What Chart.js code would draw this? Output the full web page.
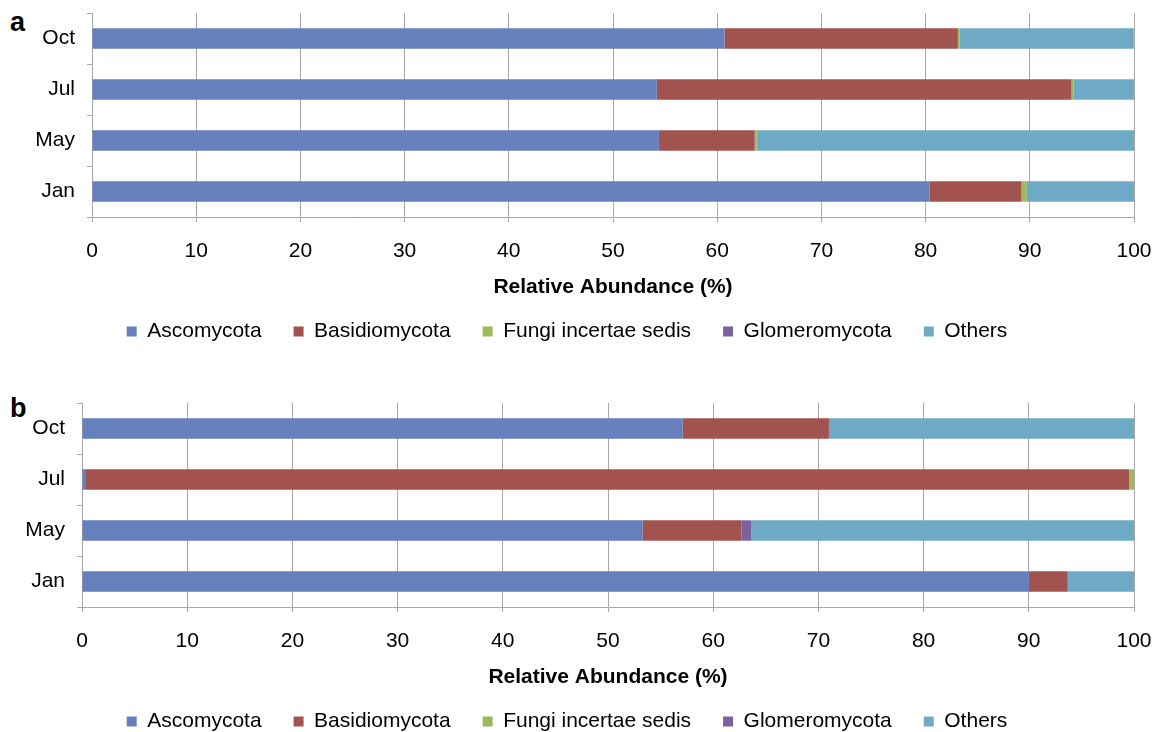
<!DOCTYPE html>
<html>
<head>
<meta charset="utf-8">
<script src="https://cdn.jsdelivr.net/npm/chart.js@4/dist/chart.umd.min.js"></script>
<style>
  html, body { margin: 0; padding: 0; background: #ffffff; overflow: hidden; }
  body { width: 1166px; height: 732px; position: relative; font-family: "Liberation Sans", Arial, Helvetica, sans-serif; }
  canvas { position: absolute; left: 0; }
  #chartA { top: 0; }
  #chartB { top: 390px; }
  .panel { position: absolute; left: 10px; font-weight: bold; font-size: 27px; color: #000; line-height: 1; }
</style>
</head>
<body>
<div class="panel" style="top:9px">a</div>
<div class="panel" style="top:395px">b</div>
<canvas id="chartA" width="1166" height="355"></canvas>
<canvas id="chartB" width="1166" height="355"></canvas>
<script>
// Sampling months (bottom to top)
const months = ['Jan', 'May', 'Jul', 'Oct'];
const phyla = ['Ascomycota', 'Basidiomycota', 'Fungi incertae sedis', 'Glomeromycota', 'Others'];
const xTicks = [0, 10, 20, 30, 40, 50, 60, 70, 80, 90, 100];

// Panel a: relative abundance (%) per phylum, in month order
const ascomycotaA    = [80.4, 54.4, 54.2, 60.7];
const basidiomycotaA = [8.8, 9.2, 39.8, 22.4];
const incertaeA      = [0.5, 0.2, 0.2, 0.15];
const glomeroA       = [0.03, 0.03, 0.03, 0.03];
const othersA        = [10.3, 36.2, 5.8, 16.7];

// Panel b: relative abundance (%) per phylum, in month order
const ascomycotaB    = [90.0, 53.3, 0.3, 57.1];
const basidiomycotaB = [3.7, 9.4, 99.25, 13.9];
const incertaeB      = [0, 0, 0.45, 0];
const glomeroB       = [0, 0.9, 0, 0];
const othersB        = [6.3, 36.4, 0, 29.0];

const colors = ['#6580bd', '#a3534f', '#9bbb5b', '#7d62a0', '#6eaac6'];
const gridColor = '#a8a8a8';
const FONT = '"Liberation Sans", Arial, Helvetica, sans-serif';

Chart.defaults.font.family = FONT;
Chart.defaults.font.size = 21;
Chart.defaults.color = '#000';

function makeDatasets(series) {
  return series.map((vals, i) => ({
    label: phyla[i],
    data: vals,
    backgroundColor: colors[i],
    borderWidth: 0,
    categoryPercentage: 1.0,
    barPercentage: 0.4
  }));
}

function buildChart(canvasId, series, yWidth) {
  return new Chart(document.getElementById(canvasId), {
    type: 'bar',
    data: { labels: months, datasets: makeDatasets(series) },
    options: {
      indexAxis: 'y',
      responsive: false,
      animation: false,
      layout: { padding: { top: 13, right: 32, left: 0, bottom: 3 } },
      plugins: {
        tooltip: { enabled: false },
        legend: {
          position: 'bottom',
          labels: {
            boxWidth: 10,
            boxHeight: 10,
            padding: 32,
            color: '#000',
            font: { size: 21 }
          }
        }
      },
      scales: {
        x: {
          stacked: true,
          min: 0,
          max: 100,
          afterBuildTicks: (scale) => { scale.ticks = xTicks.map(v => ({ value: v })); },
          afterFit: (scale) => {
            scale.height = 72;
            scale.paddingLeft = 0;
            scale.paddingRight = 0;
          },
          grid: { color: gridColor, lineWidth: 1, tickLength: 5, drawTicks: true },
          border: { color: gridColor, width: 1 },
          ticks: { padding: 17, font: { size: 21 }, color: '#000', maxRotation: 0 },
          title: {
            display: true,
            text: 'Relative Abundance (%)',
            font: { size: 21, weight: 'bold' },
            color: '#000',
            padding: { top: 0, bottom: -11 }
          }
        },
        y: {
          stacked: true,
          reverse: true,
          afterFit: (scale) => {
            scale.width = yWidth;
            scale.paddingTop = 0;
            scale.paddingBottom = 0;
          },
          grid: { offset: true, drawOnChartArea: false, drawTicks: true, tickLength: 5, color: gridColor },
          border: { color: gridColor, width: 1 },
          ticks: { padding: 12, font: { size: 21 }, color: '#000' }
        }
      }
    }
  });
}

buildChart('chartA', [ascomycotaA, basidiomycotaA, incertaeA, glomeroA, othersA], 92);
buildChart('chartB', [ascomycotaB, basidiomycotaB, incertaeB, glomeroB, othersB], 82);
</script>
</body>
</html>
